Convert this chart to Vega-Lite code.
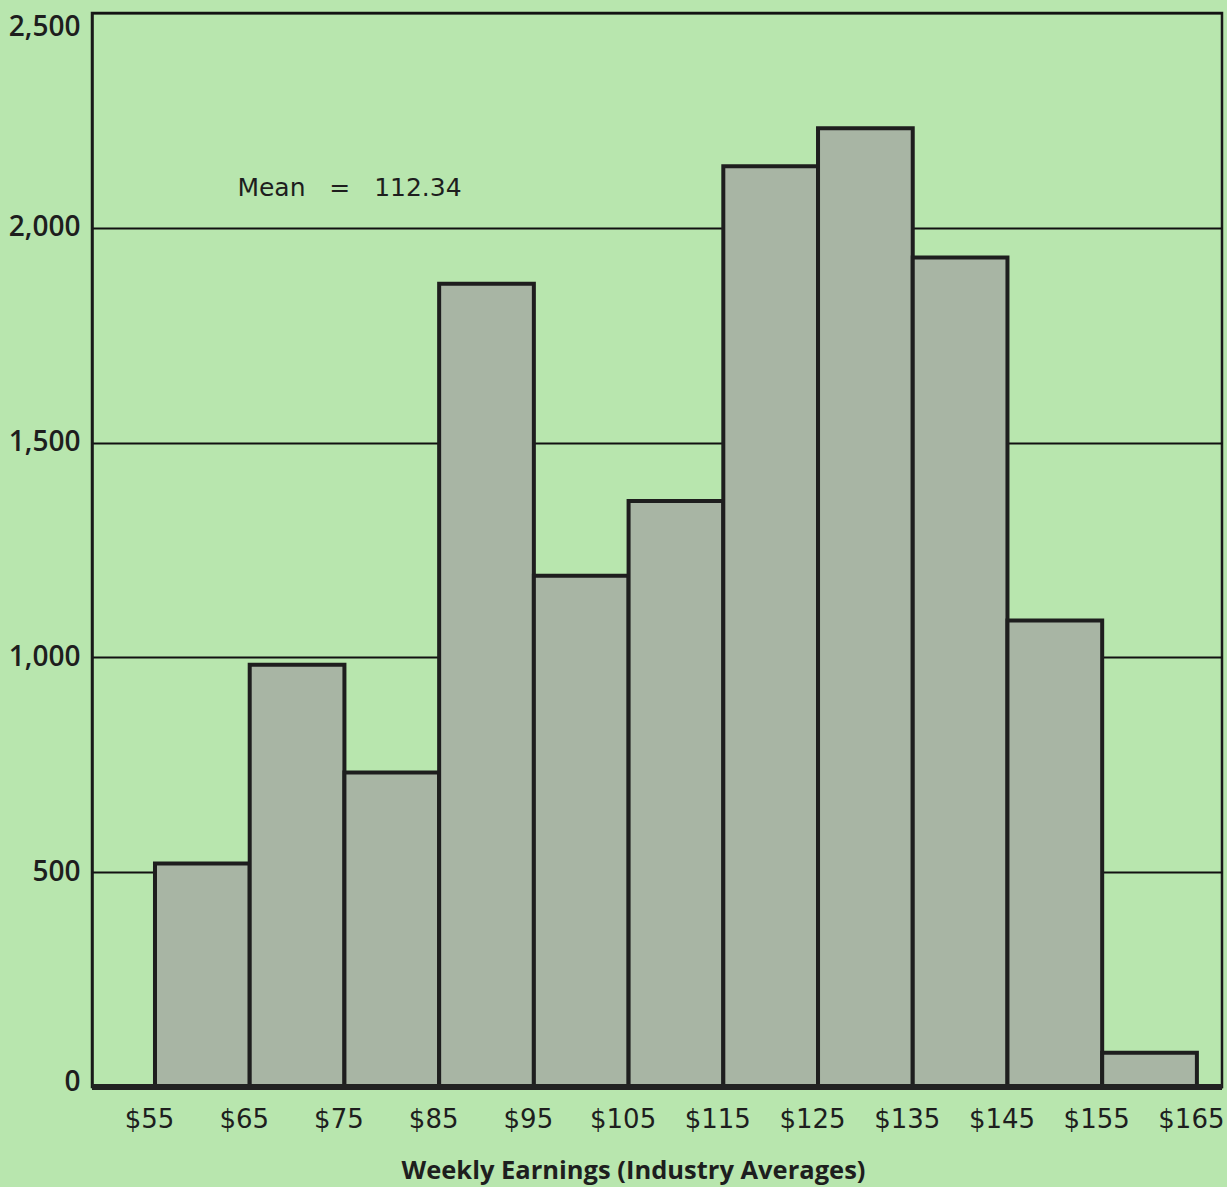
{
  "$schema": "https://vega.github.io/schema/vega-lite/v6.json",
  "width": 1130,
  "height": 1074,
  "autosize": {"type": "none"},
  "padding": {"left": 92, "top": 13, "right": 5, "bottom": 100},
  "background": "#b8e6ae",
  "config": {
    "view": {"fill": "#b8e6ae", "stroke": "#1a1a1a", "strokeWidth": 2.5},
    "font": "Open Sans"
  },
  "datasets": {
    "bins": [
      {"start": 55, "end": 65, "count": 520},
      {"start": 65, "end": 75, "count": 983},
      {"start": 75, "end": 85, "count": 732},
      {"start": 85, "end": 95, "count": 1870},
      {"start": 95, "end": 105, "count": 1190},
      {"start": 105, "end": 115, "count": 1364},
      {"start": 115, "end": 125, "count": 2143},
      {"start": 125, "end": 135, "count": 2232},
      {"start": 135, "end": 145, "count": 1931},
      {"start": 145, "end": 155, "count": 1086},
      {"start": 155, "end": 165, "count": 80}
    ],
    "note": [{"x": 63.7, "y": 2092, "label": "Mean\u00a0\u00a0\u00a0=\u00a0\u00a0\u00a0112.34"}],
    "base": [{"y": 0}]
  },
  "layer": [
    {
      "data": {"name": "bins"},
      "mark": {"type": "bar", "fill": "#a8b5a4", "stroke": "#1e1e1e", "strokeWidth": 4, "strokeJoin": "miter"},
      "encoding": {
        "x": {
          "field": "start", "type": "quantitative",
          "scale": {"domain": [48.35, 167.65], "nice": false, "zero": false},
          "axis": {
            "values": [55, 65, 75, 85, 95, 105, 115, 125, 135, 145, 155, 165],
            "labelExpr": "'$' + datum.value",
            "labelFont": "DejaVu Sans", "labelFontSize": 26, "labelColor": "#1e1e1e",
            "labelPadding": 19, "labelOffset": -6, "ticks": false, "domain": false, "grid": false,
            "labelFlush": false,
            "title": "Weekly Earnings (Industry Averages)",
            "titleFont": "Open Sans", "titleFontSize": 25.5, "titleFontWeight": "bold",
            "titleColor": "#1e1e1e", "titlePadding": 26, "titleX": 541
          }
        },
        "x2": {"field": "end"},
        "y": {
          "field": "count", "type": "quantitative",
          "scale": {"domain": [0, 2500], "nice": false},
          "axis": {
            "values": [0, 500, 1000, 1500, 2000, 2500],
            "format": ",d",
            "labelFontSize": 28, "labelFontWeight": 600, "labelColor": "#1e1e1e",
            "labelPadding": 12, "ticks": false,
            "labelBaseline": {"condition": {"test": "datum.value == 2500", "value": "top"}, "value": "middle"},
            "labelOffset": {"condition": {"test": "datum.value == 0", "value": -5}, "value": 0},
            "domainColor": "#1a1a1a", "domainWidth": 2.5,
            "grid": true, "gridColor": "#111111", "gridWidth": 2, "gridOpacity": 1,
            "title": null
          }
        },
        "y2": {"datum": 0}
      }
    },
    {
      "data": {"name": "base"},
      "mark": {"type": "rule", "stroke": "#222222", "strokeWidth": 6},
      "encoding": {"y": {"field": "y", "type": "quantitative"}}
    },
    {
      "data": {"name": "note"},
      "mark": {"type": "text", "align": "left", "baseline": "middle", "font": "DejaVu Sans", "fontSize": 25, "color": "#1e1e1e"},
      "encoding": {
        "x": {"field": "x", "type": "quantitative"},
        "y": {"field": "y", "type": "quantitative"},
        "text": {"field": "label"}
      }
    }
  ]
}
